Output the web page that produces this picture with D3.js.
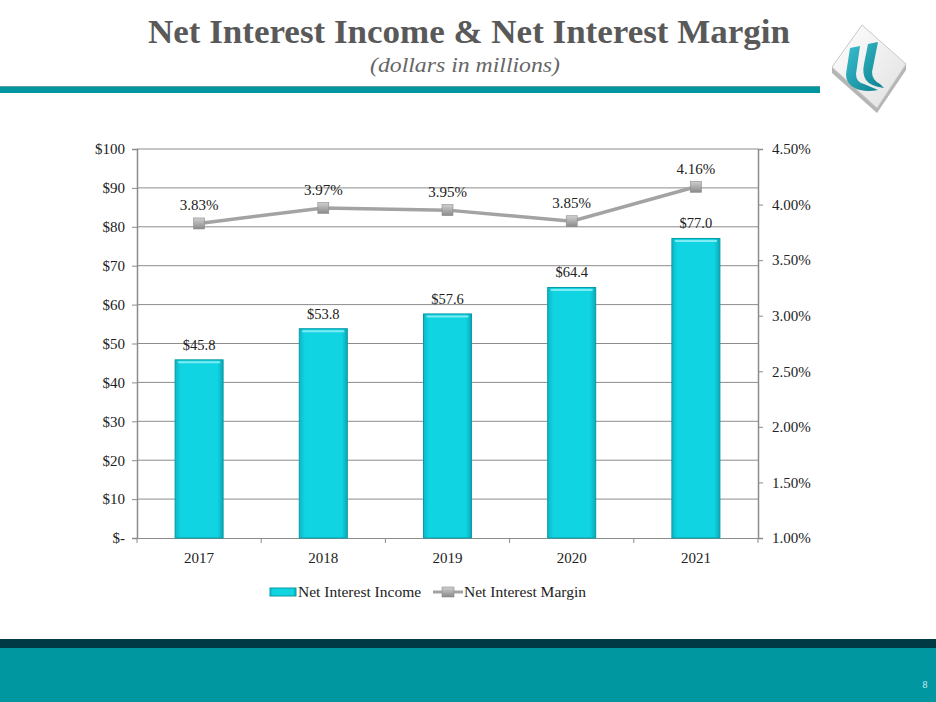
<!DOCTYPE html>
<html><head><meta charset="utf-8">
<script src="https://cdn.jsdelivr.net/npm/d3@7"></script>
<style>body{margin:0;background:#fff;}svg{display:block;}</style>
</head><body>
<svg id="c" width="936" height="702"></svg>
<script>
const categories = ["2017","2018","2019","2020","2021"];
const incomeValues = [45.8, 53.8, 57.6, 64.4, 77.0];
const marginValues = [3.83, 3.97, 3.95, 3.85, 4.16];
const leftTicks = [0,10,20,30,40,50,60,70,80,90,100];
const rightTicks = [1.0,1.5,2.0,2.5,3.0,3.5,4.0,4.5];
const seriesNames = ["Net Interest Income","Net Interest Margin"];

const svg = d3.select("#c");
const serif = "'Liberation Serif','Times New Roman',serif";
const defs = svg.append("defs");

const bg = defs.append("linearGradient").attr("id","barg").attr("x1","0").attr("x2","1");
bg.append("stop").attr("offset","0").attr("stop-color","#0bb8c6");
bg.append("stop").attr("offset","0.12").attr("stop-color","#10d4e2");
bg.append("stop").attr("offset","0.88").attr("stop-color","#10d4e2");
bg.append("stop").attr("offset","1").attr("stop-color","#0aa9b6");
const mg = defs.append("linearGradient").attr("id","mkg").attr("x1","0").attr("y1","0").attr("x2","0").attr("y2","1");
mg.append("stop").attr("offset","0").attr("stop-color","#d0d0d0");
mg.append("stop").attr("offset","1").attr("stop-color","#8a8a8a");
const lg = defs.append("linearGradient").attr("id","logog").attr("x1","0").attr("y1","0").attr("x2","1").attr("y2","1");
lg.append("stop").attr("offset","0").attr("stop-color","#ffffff");
lg.append("stop").attr("offset","1").attr("stop-color","#e0e0e0");
const ug = defs.append("linearGradient").attr("id","ug").attr("x1","0").attr("y1","0").attr("x2","1").attr("y2","1");
ug.append("stop").attr("offset","0").attr("stop-color","#3cc0cf");
ug.append("stop").attr("offset","1").attr("stop-color","#0a7f8e");

// Header
svg.append("text").attr("x",148).attr("y",43)
  .attr("font-family",serif).attr("font-weight","bold").attr("font-size",33).attr("fill","#595959")
  .attr("textLength",642).attr("lengthAdjust","spacingAndGlyphs")
  .text("Net Interest Income & Net Interest Margin");
svg.append("text").attr("x",370).attr("y",72)
  .attr("font-family",serif).attr("font-style","italic").attr("font-size",21).attr("fill","#666")
  .attr("textLength",190).attr("lengthAdjust","spacingAndGlyphs")
  .text("(dollars in millions)");
svg.append("rect").attr("x",0).attr("y",86).attr("width",820).attr("height",7).attr("fill","#00959f");
svg.append("rect").attr("x",0).attr("y",86).attr("width",820).attr("height",1).attr("fill","#5c9ea4");

// Logo
const lgG = svg.append("g");
lgG.append("path").attr("d","M832,67 L877,108 L906,64 L906,70 L877,113 L832,73 Z").attr("fill","#b5b5b5");
lgG.append("path").attr("d","M862,25 L906,64 L877,108 L832,67 Z").attr("fill","url(#logog)").attr("stroke","#c8c8c8");
lgG.append("path").attr("d","M850,48 L860,46 L856,74 Q856,82 864,84 L878,90 Q868,92 860,90 Q846,86 846,74 Z M868,44 L878,42 L872,72 Q872,80 880,84 L884,88 Q870,86 866,80 Q862,74 864,64 Z")
  .attr("fill","url(#ug)");

// Footer
svg.append("rect").attr("x",0).attr("y",639).attr("width",936).attr("height",63).attr("fill","#0097a1");
svg.append("rect").attr("x",0).attr("y",639).attr("width",936).attr("height",9).attr("fill","#003a44");
svg.append("text").attr("x",925).attr("y",688).attr("text-anchor","middle").attr("font-family",serif)
  .attr("font-size",10).attr("fill","#cfeff2").text("8");

// Chart
const L = 137, R = 758, T = 149, B = 538;
const x = d3.scaleBand().domain(categories).range([L,R]);
const yL = d3.scaleLinear().domain([0,100]).range([B,T]);
const yR = d3.scaleLinear().domain([1.0,4.5]).range([B,T]);

const grid = svg.append("g");
grid.selectAll("line").data(leftTicks.filter(d=>d>0)).join("line")
  .attr("x1",L).attr("x2",R).attr("y1",d=>yL(d)).attr("y2",d=>yL(d))
  .attr("stroke","#8c8c8c").attr("stroke-width",1);

const fmtL = d => d===0 ? "$-" : "$"+d;
const axL = svg.append("g").attr("transform",`translate(${L},0)`)
  .call(d3.axisLeft(yL).tickValues(leftTicks).tickFormat(fmtL).tickSize(5).tickPadding(7));
const axR = svg.append("g").attr("transform",`translate(${R},0)`)
  .call(d3.axisRight(yR).tickValues(rightTicks).tickFormat(d=>d.toFixed(2)+"%").tickSize(5).tickPadding(9));
const axB = svg.append("g").attr("transform",`translate(0,${B})`)
  .call(d3.axisBottom(x).tickSize(0).tickPadding(14));
svg.append("g").selectAll("line").data(categories.slice(1)).join("line")
  .attr("x1",d=>x(d)).attr("x2",d=>x(d)).attr("y1",B).attr("y2",B+5).attr("stroke","#8c8c8c");
svg.append("line").attr("x1",L).attr("x2",L).attr("y1",B).attr("y2",B+5).attr("stroke","#8c8c8c");
svg.append("line").attr("x1",R).attr("x2",R).attr("y1",B).attr("y2",B+5).attr("stroke","#8c8c8c");

[axL,axR,axB].forEach(a=>{
  a.selectAll(".domain").attr("stroke","#8c8c8c").attr("stroke-width",1.5);
  a.selectAll(".tick line").attr("stroke","#8c8c8c");
  a.selectAll("text").attr("font-family",serif).attr("font-size",15).attr("fill","#222");
});
axB.select(".domain").attr("stroke-width",1.2);

// Bars
const bw = 48;
const bars = svg.append("g");
bars.selectAll("rect").data(incomeValues).join("rect")
  .attr("x",(d,i)=>x(categories[i])+x.bandwidth()/2-bw/2)
  .attr("y",d=>yL(d)).attr("width",bw).attr("height",d=>B-yL(d))
  .attr("fill","url(#barg)").attr("stroke","#089aa6").attr("stroke-width",1);
bars.selectAll("line.hl").data(incomeValues).join("line").attr("class","hl")
  .attr("x1",(d,i)=>x(categories[i])+x.bandwidth()/2-bw/2+3)
  .attr("x2",(d,i)=>x(categories[i])+x.bandwidth()/2+bw/2-3)
  .attr("y1",d=>yL(d)+2.5).attr("y2",d=>yL(d)+2.5).attr("stroke","#7eeaf2").attr("stroke-width",2);
bars.selectAll("text").data(incomeValues).join("text")
  .attr("x",(d,i)=>x(categories[i])+x.bandwidth()/2).attr("y",d=>yL(d)-10)
  .attr("text-anchor","middle").attr("font-family",serif).attr("font-size",14.5).attr("fill","#222")
  .text(d=>"$"+d.toFixed(1));

// Line
const cx = (d,i)=>x(categories[i])+x.bandwidth()/2;
const line = d3.line().x(cx).y(d=>yR(d));
svg.append("path").datum(marginValues).attr("d",line).attr("fill","none")
  .attr("stroke","#a3a3a3").attr("stroke-width",3.5);
svg.append("g").selectAll("rect").data(marginValues).join("rect")
  .attr("x",(d,i)=>cx(d,i)-5.5).attr("y",d=>yR(d)-5.5).attr("width",11).attr("height",11)
  .attr("fill","url(#mkg)").attr("stroke","#8a8a8a").attr("stroke-width",0.6);
svg.append("g").selectAll("text").data(marginValues).join("text")
  .attr("x",cx).attr("y",d=>yR(d)-13)
  .attr("text-anchor","middle").attr("font-family",serif).attr("font-size",15).attr("fill","#222")
  .text(d=>d.toFixed(2)+"%");

// Legend
const lgd = svg.append("g");
lgd.append("rect").attr("x",270).attr("y",588).attr("width",26).attr("height",8)
  .attr("fill","url(#barg)").attr("stroke","#089aa6");
lgd.append("text").attr("x",298).attr("y",597).attr("font-family",serif).attr("font-size",15.5).attr("fill","#222").text(seriesNames[0]);
lgd.append("line").attr("x1",433).attr("x2",463).attr("y1",592).attr("y2",592).attr("stroke","#a3a3a3").attr("stroke-width",3);
lgd.append("rect").attr("x",442).attr("y",587).attr("width",12).attr("height",10).attr("fill","url(#mkg)").attr("stroke","#8a8a8a").attr("stroke-width",0.6);
lgd.append("text").attr("x",464).attr("y",597).attr("font-family",serif).attr("font-size",15.5).attr("fill","#222").text(seriesNames[1]);
</script>
</body></html>
